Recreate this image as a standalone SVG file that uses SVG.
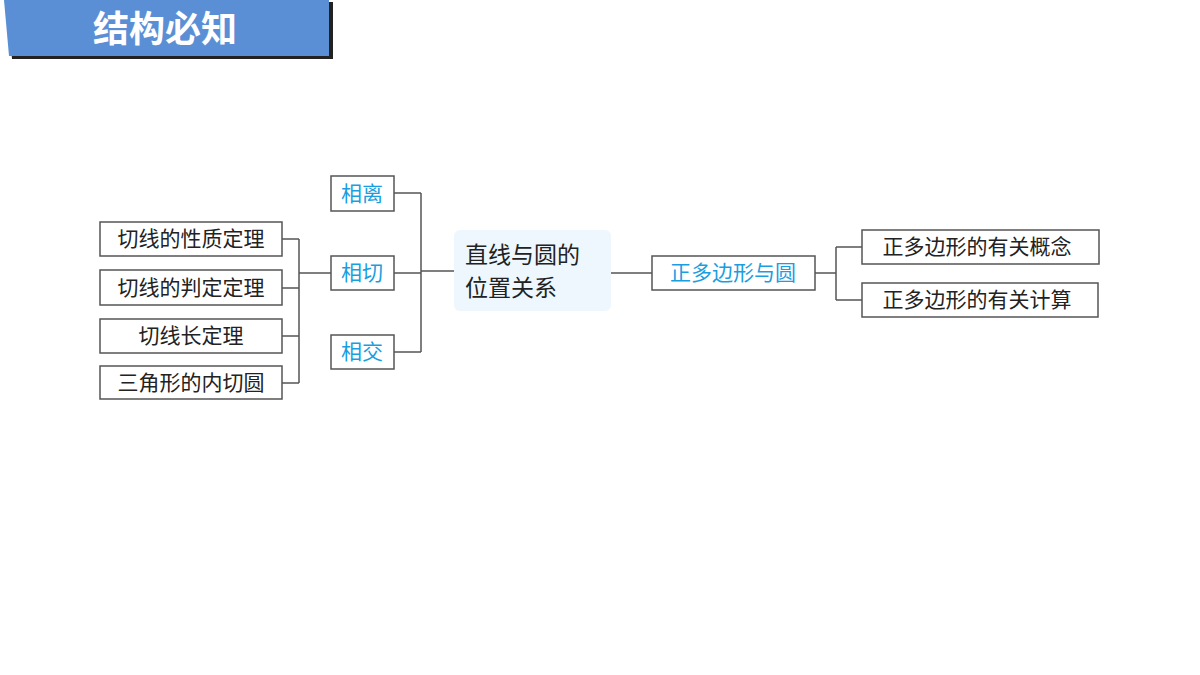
<svg xmlns="http://www.w3.org/2000/svg" width="1200" height="675" viewBox="0 0 1200 675">
<style>
.b{fill:#fff;stroke:#555;stroke-width:1.5}
.t{font-family:"Noto Sans CJK SC",sans-serif;font-size:21px;fill:#222;text-anchor:middle}
.s{text-anchor:start;font-size:23px}
.c{fill:#1a9ee0}
.l{fill:none;stroke:#555;stroke-width:1.5}
</style>
<rect width="1200" height="675" fill="#fff"/>
<g id="title">
<polygon points="7,2 333,2 333,59 12,59" fill="#222"/>
<polygon points="4,0 329,0 329,56 9,56" fill="#5a8fd6"/>
<text x="165" y="42" font-family="Noto Sans CJK SC,sans-serif" font-size="36" font-weight="bold" fill="#fff" text-anchor="middle">结构必知</text>
</g>
<g id="connectors">
<path class="l" d="M454 271H421M421 193V352M394 193H421M394 273H421M394 352H421"/>
<path class="l" d="M331 273H299M299 239V383M282 239H299M282 288H299M282 336H299M282 383H299"/>
<path class="l" d="M611 273H652M815 273H836M836 247V300M836 247H862M836 300H862"/>
</g>
<g id="center"><rect x="454" y="230" width="157" height="81" rx="6" fill="#eef7fd"/>
<text class="t s" x="465" y="263">直线与圆的</text><text class="t s" x="465" y="296">位置关系</text></g>
<g id="xl"><rect class="b" x="331" y="176" width="63" height="35"/><text class="t c" x="362" y="201">相离</text></g>
<g id="xq"><rect class="b" x="331" y="256" width="63" height="34"/><text class="t c" x="362" y="280">相切</text></g>
<g id="xj"><rect class="b" x="331" y="335" width="63" height="34"/><text class="t c" x="362" y="359">相交</text></g>
<g id="zdb"><rect class="b" x="652" y="256" width="163" height="34"/><text class="t c" x="733" y="280">正多边形与圆</text></g>
<g id="a1"><rect class="b" x="100" y="222" width="182" height="34"/><text class="t" x="191" y="246">切线的性质定理</text></g>
<g id="a2"><rect class="b" x="100" y="270" width="182" height="35"/><text class="t" x="191" y="295">切线的判定定理</text></g>
<g id="a3"><rect class="b" x="100" y="319" width="182" height="34"/><text class="t" x="191" y="343">切线长定理</text></g>
<g id="a4"><rect class="b" x="100" y="366" width="182" height="33"/><text class="t" x="191" y="390">三角形的内切圆</text></g>
<g id="b1"><rect class="b" x="862" y="230" width="237" height="34"/><text class="t" x="977" y="254">正多边形的有关概念</text></g>
<g id="b2"><rect class="b" x="862" y="283" width="236" height="34"/><text class="t" x="977" y="307">正多边形的有关计算</text></g>
</svg>
